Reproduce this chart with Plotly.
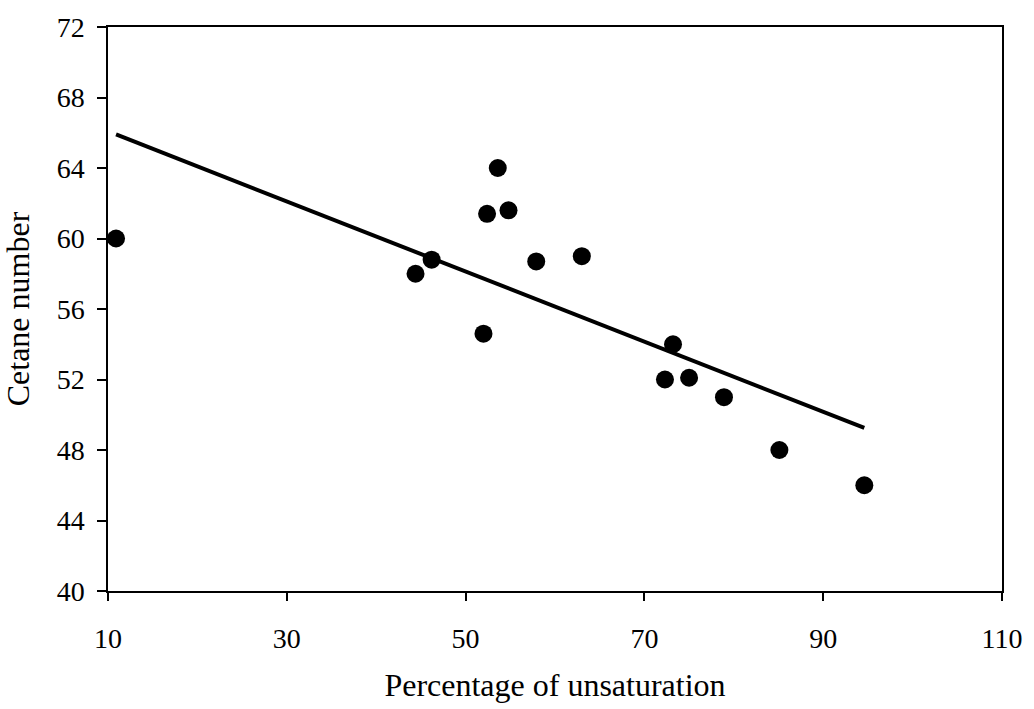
import numpy as np
import plotly.graph_objects as go

# Data
unsaturation = [10.9, 44.4, 46.2, 52.0, 52.4, 53.6, 54.8, 57.9, 63.0,
                72.3, 73.2, 75.0, 78.9, 85.1, 94.6]
cetane = [60.0, 58.0, 58.8, 54.6, 61.4, 64.0, 61.6, 58.7, 59.0,
          52.0, 54.0, 52.1, 51.0, 48.0, 46.0]

x_ticks = [10, 30, 50, 70, 90, 110]
y_ticks = [40, 44, 48, 52, 56, 60, 64, 68, 72]

# Linear trendline (least squares)
slope, intercept = np.polyfit(unsaturation, cetane, 1)
trend_x = [min(unsaturation), max(unsaturation)]
trend_y = [slope * v + intercept for v in trend_x]

FONT = "Liberation Serif, Times New Roman, serif"

fig = go.Figure()
fig.add_trace(go.Scatter(x=trend_x, y=trend_y, mode="lines",
                         line=dict(color="black", width=4),
                         showlegend=False, hoverinfo="skip"))
fig.add_trace(go.Scatter(x=unsaturation, y=cetane, mode="markers",
                         marker=dict(color="black", size=18),
                         showlegend=False))

fig.update_layout(
    width=1034, height=709,
    margin=dict(l=108, r=26, t=24, b=117),
    paper_bgcolor="white", plot_bgcolor="white",
    font=dict(family=FONT, color="black", size=28),
)
fig.update_xaxes(
    range=[10, 110], tickvals=x_ticks, ticktext=[str(v) for v in x_ticks],
    showgrid=False, zeroline=False,
    showline=True, linecolor="black", linewidth=1.5, mirror=True,
    ticks="outside", ticklen=8, tickcolor="black", tickwidth=1.5,
    tickfont=dict(size=28, family=FONT), ticklabelstandoff=14,
    ticklabeloverflow="allow",
    title=dict(text="Percentage of unsaturation", font=dict(size=32, family=FONT), standoff=20),
)
fig.update_yaxes(
    range=[40, 72], tickvals=y_ticks, ticktext=[str(v) for v in y_ticks],
    showgrid=False, zeroline=False,
    showline=True, linecolor="black", linewidth=1.5, mirror=True,
    ticks="outside", ticklen=9, tickcolor="black", tickwidth=1.5,
    tickfont=dict(size=28, family=FONT), ticklabelstandoff=7,
    title=dict(text="Cetane number", font=dict(size=32, family=FONT), standoff=20),
)

fig.write_html("out.html", config={"displayModeBar": False},
               post_script="document.body.style.margin='0';document.body.style.overflow='hidden';")
